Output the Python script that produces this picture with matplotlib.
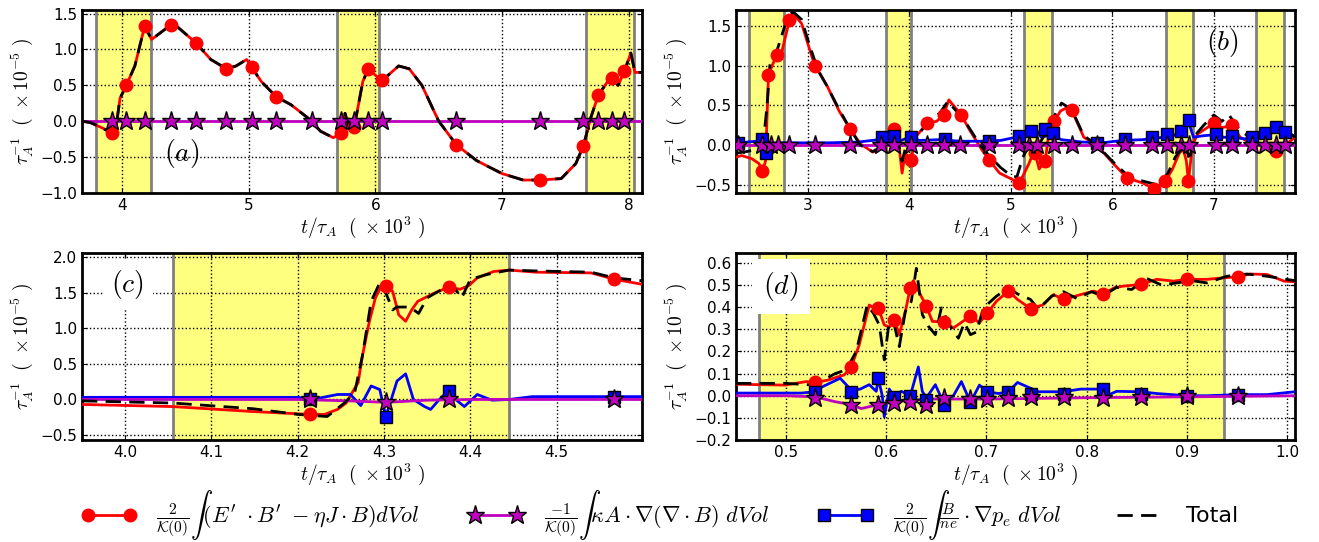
import numpy as np
import matplotlib.pyplot as plt
from matplotlib.lines import Line2D

# ---------------- panel (a) ----------------
t_a = [3.683, 3.75, 3.85, 3.917, 3.95, 3.983, 4.033, 4.1, 4.177, 4.233, 4.3, 4.383, 4.433, 4.583, 4.7,
       4.823, 4.9, 4.983, 5.023, 5.1, 5.217, 5.333, 5.467, 5.567, 5.667, 5.727, 5.76, 5.793, 5.833, 5.9,
       5.943, 6.0, 6.05, 6.1, 6.183, 6.267, 6.367, 6.5, 6.64, 6.8, 7.0, 7.167, 7.3, 7.467, 7.583,
       7.643, 7.7, 7.76, 7.833, 7.867, 7.917, 7.967, 8.017, 8.05, 8.106]
red_a = [0.0, -0.02, -0.1, -0.17, -0.1, 0.32, 0.5, 0.77, 1.32, 1.14, 1.23, 1.34, 1.32, 1.09, 0.86,
         0.73, 0.77, 0.86, 0.75, 0.55, 0.34, 0.23, 0.045, -0.14, -0.23, -0.17, 0.11, -0.09, -0.08, 0.55,
         0.73, 0.64, 0.57, 0.64, 0.77, 0.73, 0.5, 0.0, -0.33, -0.55, -0.73, -0.82, -0.82, -0.8, -0.59,
         -0.34, 0.045, 0.36, 0.55, 0.6, 0.5, 0.70, 0.95, 0.68, 0.68]
tot_a = red_a
t_mag_a = [3.683, 8.106]
mag_a = [0.0, 0.0]
t_rmk_a = [3.917, 4.033, 4.177, 4.383, 4.583, 4.823, 5.023, 5.217, 5.727, 5.833, 5.943, 6.05, 6.64,
           7.3, 7.643, 7.76, 7.867, 7.967]
rmk_a = [-0.17, 0.5, 1.32, 1.34, 1.09, 0.73, 0.75, 0.34, -0.17, -0.08, 0.73, 0.57, -0.33, -0.82,
         -0.34, 0.36, 0.6, 0.70]
t_star_a = [3.917, 4.033, 4.177, 4.383, 4.583, 4.823, 5.023, 5.217, 5.5, 5.727, 5.833, 5.943, 6.05,
            6.64, 7.3, 7.643, 7.76, 7.867, 7.967]
star_a = [0.0] * len(t_star_a)
spans_a = [(3.79, 4.23), (5.70, 6.03), (7.665, 8.045)]

# ---------------- panel (b) ----------------
t_rb = [2.294, 2.35, 2.45, 2.52, 2.555, 2.585, 2.614, 2.65, 2.697, 2.73, 2.75, 2.79, 2.82, 2.854,
        2.94, 3.02, 3.07, 3.19, 3.31, 3.415, 3.52, 3.64, 3.77, 3.85, 3.89, 3.93, 3.96, 4.02, 4.06,
        4.18, 4.27, 4.34, 4.39, 4.51, 4.6, 4.72, 4.79, 4.89, 5.085, 5.18, 5.22, 5.24, 5.28, 5.34,
        5.37, 5.43, 5.49, 5.55, 5.6, 5.72, 5.85, 6.01, 6.145, 6.3, 6.41, 6.47, 6.52, 6.59, 6.66,
        6.7, 6.73, 6.75, 6.79, 6.84, 7.0, 7.08, 7.18, 7.26, 7.38, 7.5, 7.61, 7.7, 7.8]
red_b = [-0.15, -0.13, -0.17, -0.23, -0.32, -0.2, 0.885, 1.0, 1.14, 1.08, 1.2, 1.41, 1.57, 1.66,
         1.53, 1.2, 1.0, 0.75, 0.43, 0.21, 0.016, -0.086, -0.025, 0.2, 0.1, -0.35, -0.1, -0.18, 0.1,
         0.28, 0.3, 0.385, 0.57, 0.385, 0.18, -0.066, -0.19, -0.35, -0.475, -0.23, -0.1, -0.1, -0.3,
         -0.2, 0.1, 0.3, 0.43, 0.47, 0.44, 0.1, 0.0, -0.23, -0.41, -0.475, -0.545, -0.5, -0.455,
         -0.31, -0.1, -0.05, -0.2, -0.455, 0.0, 0.14, 0.275, 0.22, 0.25, 0.1, 0.016, -0.02, -0.074,
         0.0, 0.1]
t_kb = [2.294, 2.4, 2.5, 2.56, 2.6, 2.63, 2.66, 2.7, 2.75, 2.8, 2.854, 2.94, 3.02, 3.1, 3.2, 3.31,
        3.42, 3.52, 3.64, 3.75, 3.83, 3.88, 3.93, 3.97, 4.02, 4.1, 4.2, 4.3, 4.38, 4.45, 4.55, 4.7,
        4.8, 4.9, 5.0, 5.06, 5.12, 5.18, 5.25, 5.32, 5.4, 5.5, 5.6, 5.72, 5.85, 6.0, 6.15, 6.3, 6.45,
        6.55, 6.62, 6.68, 6.72, 6.76, 6.8, 6.9, 7.0, 7.08, 7.15, 7.25, 7.35, 7.45, 7.55, 7.65, 7.8]
tot_b = [-0.1, -0.08, -0.05, 0.0, 0.5, 1.05, 1.1, 1.2, 1.4, 1.6, 1.68, 1.58, 1.25, 0.95, 0.72, 0.45,
         0.2, 0.0, -0.08, 0.0, 0.25, 0.1, -0.2, 0.0, -0.05, 0.15, 0.32, 0.4, 0.55, 0.45, 0.3, 0.0,
         -0.15, -0.28, -0.38, -0.4, -0.15, 0.0, -0.05, 0.1, 0.3, 0.53, 0.45, 0.12, 0.0, -0.2, -0.38,
         -0.45, -0.5, -0.35, -0.15, -0.05, 0.05, -0.2, 0.1, 0.25, 0.38, 0.3, 0.38, 0.2, 0.1, 0.1,
         0.2, 0.25, 0.1]
t_bb = [2.294, 2.4, 2.5, 2.55, 2.58, 2.62, 2.7, 2.9, 3.2, 3.5, 3.7, 3.8, 3.9, 4.0, 4.1, 4.3, 4.5,
        4.7, 4.9, 5.05, 5.15, 5.25, 5.3, 5.4, 5.5, 5.7, 5.9, 6.1, 6.3, 6.5, 6.6, 6.7, 6.75, 6.8, 6.9,
        7.0, 7.1, 7.2, 7.3, 7.4, 7.5, 7.6, 7.7, 7.8]
blue_b = [0.0, 0.04, 0.05, 0.08, -0.05, 0.02, 0.03, 0.03, 0.03, 0.04, 0.07, 0.1, 0.05, 0.1, 0.06,
          0.07, 0.05, 0.05, 0.06, 0.1, 0.15, 0.2, 0.1, 0.13, 0.07, 0.04, 0.03, 0.06, 0.07, 0.1, 0.12,
          0.18, 0.3, 0.1, 0.12, 0.13, 0.1, 0.1, 0.08, 0.1, 0.12, 0.2, 0.14, 0.12]
t_mag_b = [2.294, 7.8]
mag_b = [0.0, 0.0]
t_rmk_b = [2.555, 2.614, 2.697, 2.82, 3.07, 3.415, 3.85, 4.02, 4.18, 4.34, 4.51, 4.79, 5.085, 5.24,
           5.34, 5.43, 5.6, 6.145, 6.41, 6.52, 6.75, 7.0, 7.18, 7.61]
rmk_b = [-0.32, 0.885, 1.14, 1.57, 1.0, 0.21, 0.2, -0.18, 0.28, 0.385, 0.385, -0.19, -0.475, -0.1,
         -0.2, 0.3, 0.44, -0.41, -0.545, -0.455, -0.455, 0.275, 0.25, -0.074]
t_sq_b = [2.31, 2.55, 2.59, 3.73, 3.85, 4.02, 4.35, 4.79, 5.085, 5.2, 5.34, 5.42, 5.85, 6.125, 6.39,
          6.535, 6.68, 6.755, 7.02, 7.18, 7.38, 7.5, 7.61, 7.7]
sq_b = [0.03, 0.08, -0.1, 0.1, 0.12, 0.1, 0.08, 0.05, 0.12, 0.18, 0.21, 0.15, 0.025, 0.08, 0.1,
        0.14, 0.18, 0.32, 0.14, 0.12, 0.1, 0.15, 0.23, 0.16]
t_star_b = [2.31, 2.555, 2.64, 2.71, 2.82, 3.07, 3.415, 3.727, 3.85, 4.02, 4.18, 4.345, 4.5, 4.79,
            5.085, 5.18, 5.26, 5.43, 5.6, 5.85, 6.125, 6.39, 6.535, 6.68, 6.755, 7.02, 7.18, 7.38,
            7.5, 7.61, 7.7]
star_b = [0.0] * len(t_star_b)
spans_b = [(2.42, 2.77), (3.77, 4.02), (5.13, 5.41), (6.53, 6.80), (7.42, 7.69)]

# ---------------- panel (c) ----------------
t_rc = [3.95, 4.055, 4.148, 4.214, 4.231, 4.246, 4.256, 4.27, 4.275, 4.283, 4.29, 4.298, 4.302,
        4.31, 4.317, 4.325, 4.332, 4.339, 4.359, 4.375, 4.388, 4.398, 4.408, 4.427, 4.445, 4.476,
        4.54, 4.567, 4.599]
red_c = [-0.07, -0.1, -0.17, -0.21, -0.21, -0.14, -0.05, 0.24, 0.62, 1.1, 1.43, 1.62, 1.6, 1.52,
         1.19, 1.1, 1.26, 1.38, 1.5, 1.58, 1.55, 1.6, 1.71, 1.8, 1.82, 1.79, 1.78, 1.69, 1.62]
t_kc = [3.95, 4.055, 4.148, 4.2, 4.234, 4.254, 4.266, 4.275, 4.285, 4.295, 4.302, 4.31, 4.315, 4.33,
        4.34, 4.35, 4.37, 4.378, 4.39, 4.4, 4.42, 4.445, 4.47, 4.54, 4.567, 4.599]
tot_c = [-0.02, -0.05, -0.13, -0.21, -0.24, -0.05, 0.1, 0.62, 1.38, 1.64, 1.5, 1.26, 1.3, 1.3, 1.21,
         1.43, 1.57, 1.62, 1.43, 1.69, 1.76, 1.82, 1.81, 1.79, 1.71, 1.67]
t_bc = [3.95, 4.2, 4.217, 4.246, 4.261, 4.273, 4.285, 4.295, 4.302, 4.307, 4.315, 4.325, 4.334,
        4.347, 4.354, 4.364, 4.375, 4.383, 4.393, 4.408, 4.425, 4.445, 4.472, 4.599]
blue_c = [0.03, 0.03, 0.0, 0.07, 0.07, -0.086, 0.19, 0.14, -0.24, -0.05, 0.26, 0.36, 0.0, -0.1,
          -0.14, 0.0, 0.13, 0.0, -0.1, 0.07, -0.01, 0.0, 0.04, 0.04]
t_mag_c = [3.95, 4.2, 4.26, 4.302, 4.35, 4.4, 4.599]
mag_c = [0.0, 0.0, -0.02, -0.04, -0.01, 0.0, 0.0]
t_mk_c = [4.214, 4.302, 4.375, 4.567]
rmk_c = [-0.21, 1.6, 1.58, 1.69]
sq_c = [0.0, -0.24, 0.12, 0.04]
star_c = [0.0, -0.04, 0.0, 0.0]
spans_c = [(4.055, 4.445)]

# ---------------- panel (d) ----------------
t_rd = [0.45, 0.499, 0.52, 0.529, 0.541, 0.558, 0.565, 0.573, 0.583, 0.59, 0.592, 0.598, 0.603,
        0.608, 0.613, 0.619, 0.624, 0.627, 0.636, 0.64, 0.646, 0.658, 0.667, 0.684, 0.693, 0.701,
        0.71, 0.722, 0.731, 0.744, 0.756, 0.767, 0.777, 0.794, 0.807, 0.816, 0.828, 0.836, 0.854,
        0.87, 0.887, 0.9, 0.92, 0.9375, 0.951, 0.963, 0.98, 0.997, 1.008]
red_d = [0.052, 0.048, 0.064, 0.06, 0.07, 0.094, 0.13, 0.23, 0.41, 0.39, 0.397, 0.32, 0.31, 0.344,
         0.276, 0.38, 0.488, 0.52, 0.44, 0.405, 0.336, 0.333, 0.306, 0.36, 0.33, 0.374, 0.427, 0.473,
         0.435, 0.394, 0.41, 0.457, 0.435, 0.457, 0.473, 0.46, 0.488, 0.495, 0.503, 0.526, 0.518,
         0.526, 0.526, 0.533, 0.538, 0.55, 0.548, 0.518, 0.515]
t_kd = [0.45, 0.5, 0.528, 0.549, 0.56, 0.57, 0.581, 0.587, 0.593, 0.598, 0.603, 0.608, 0.613, 0.619,
        0.625, 0.63, 0.636, 0.642, 0.649, 0.655, 0.662, 0.667, 0.672, 0.678, 0.684, 0.69, 0.697,
        0.71, 0.722, 0.731, 0.744, 0.752, 0.765, 0.777, 0.79, 0.805, 0.816, 0.83, 0.845, 0.86, 0.875,
        0.89, 0.905, 0.92, 0.94, 0.96, 0.98, 1.008]
tot_d = [0.056, 0.056, 0.048, 0.1, 0.117, 0.2, 0.41, 0.374, 0.32, 0.162, 0.336, 0.32, 0.222, 0.38,
         0.427, 0.576, 0.367, 0.314, 0.276, 0.397, 0.33, 0.29, 0.26, 0.33, 0.276, 0.288, 0.397, 0.45,
         0.488, 0.46, 0.435, 0.39, 0.45, 0.47, 0.44, 0.47, 0.45, 0.49, 0.48, 0.53, 0.5, 0.51, 0.52,
         0.51, 0.54, 0.55, 0.54, 0.52]
t_bd = [0.45, 0.515, 0.529, 0.536, 0.554, 0.56, 0.565, 0.574, 0.583, 0.59, 0.592, 0.596, 0.598,
        0.603, 0.608, 0.615, 0.624, 0.632, 0.636, 0.64, 0.649, 0.658, 0.667, 0.675, 0.684, 0.693,
        0.701, 0.712, 0.722, 0.731, 0.752, 0.777, 0.794, 0.816, 0.82, 0.83, 0.854, 0.87, 0.9, 0.92,
        0.951, 0.98, 1.008]
blue_d = [0.012, 0.012, 0.018, 0.04, 0.079, 0.05, 0.025, 0.03, 0.05, 0.02, 0.079, 0.0, -0.095, 0.03,
          -0.005, 0.02, 0.0, 0.13, 0.02, -0.01, 0.05, -0.04, 0.0, 0.064, -0.03, 0.048, 0.018, 0.01,
          0.018, 0.06, 0.018, 0.018, 0.03, 0.03, 0.0, 0.02, 0.018, 0.01, 0.0, 0.0, 0.005, 0.005, 0.018]
t_mag_d = [0.45, 0.5, 0.529, 0.549, 0.565, 0.575, 0.592, 0.608, 0.64, 0.7, 0.8, 0.9, 1.008]
mag_d = [0.0, 0.0, -0.005, -0.027, -0.04, -0.058, -0.04, -0.027, -0.015, -0.015, -0.009, -0.005, 0.0]
t_mk_d = [0.529, 0.565, 0.592, 0.608, 0.624, 0.64, 0.658, 0.684, 0.701, 0.722, 0.744, 0.777, 0.816,
          0.854, 0.9, 0.951]
rmk_d = [0.06, 0.13, 0.397, 0.344, 0.488, 0.405, 0.333, 0.36, 0.374, 0.473, 0.394, 0.435, 0.46,
         0.503, 0.526, 0.538]
sq_d = [0.018, 0.018, 0.079, -0.005, 0.0, -0.02, -0.04, -0.027, 0.018, 0.018, 0.01, 0.01, 0.03,
        0.01, 0.0, 0.005]
star_d = [-0.01, -0.04, -0.04, -0.035, -0.027, -0.04, -0.012, -0.015, -0.015, -0.009, -0.005,
          -0.005, -0.009, -0.005, 0.0, 0.0]
spans_d = [(0.473, 0.9375)]

labels = [r"$\frac{2}{\mathcal{K}(0)}\int(E^{\prime}\ \cdot B^{\prime}\ -\eta J\cdot B)dVol$",
          r"$\frac{-1}{\mathcal{K}(0)}\int\kappa A\cdot\nabla(\nabla\cdot B)\ dVol$",
          r"$\frac{2}{\mathcal{K}(0)}\int\frac{B}{ne}\cdot\nabla p_e\ dVol$",
          "Total"]

plt.rcParams['mathtext.fontset'] = 'cm'
plt.rcParams['xtick.direction'] = 'in'
plt.rcParams['ytick.direction'] = 'in'
plt.rcParams['xtick.top'] = True
plt.rcParams['ytick.right'] = True
plt.rcParams['font.size'] = 11

RED, MAG, BLUE = 'r', (0.75, 0, 0.75), 'b'
DASH = (5.5, 3)

fig = plt.figure(figsize=(13.19, 5.42), dpi=100)
ax_a = fig.add_axes([0.0622, 0.644, 0.4246, 0.3376])
ax_b = fig.add_axes([0.558, 0.644, 0.4238, 0.3376])
ax_c = fig.add_axes([0.0622, 0.1882, 0.4246, 0.345])
ax_d = fig.add_axes([0.558, 0.1882, 0.4238, 0.345])


def setup(ax, spans):
    for lo, hi in spans:
        ax.axvspan(lo, hi, color='yellow', alpha=0.5, lw=0, zorder=0)
        ax.axvline(lo, color='gray', lw=2, zorder=1)
        ax.axvline(hi, color='gray', lw=2, zorder=1)
    ax.grid(True, color='k', ls=':', lw=1)
    ax.set_axisbelow(True)
    for s in ax.spines.values():
        s.set_linewidth(2)
    ax.set_xlabel(r'$t/\tau_A\ \ (\ \times10^3\ )$', fontsize=14, labelpad=1)
    ax.set_ylabel(r'$\tau_A^{-1}\ \ (\ \times10^{-5}\ )$', fontsize=14, labelpad=4)


def red_series(ax, t, y, tm, ym):
    ax.plot(t, y, color=RED, lw=2, zorder=3)
    ax.plot(tm, ym, ls='none', marker='o', ms=9, mfc=RED, mec=RED, zorder=5)


def blue_series(ax, t, y, tm, ym):
    ax.plot(t, y, color=BLUE, lw=2, zorder=3)
    ax.plot(tm, ym, ls='none', marker='s', ms=8, mfc=BLUE, mec='k', mew=1, zorder=5)


def mag_series(ax, t, y, tm, ym):
    ax.plot(t, y, color=MAG, lw=2, zorder=3)
    ax.plot(tm, ym, ls='none', marker='*', ms=14, mfc=MAG, mec='k', mew=1, zorder=6)


def total(ax, t, y):
    ax.plot(t, y, color='k', lw=2, dashes=DASH, zorder=4)


# (a)
setup(ax_a, spans_a)
red_series(ax_a, t_a, red_a, t_rmk_a, rmk_a)
total(ax_a, t_a, tot_a)
mag_series(ax_a, t_mag_a, mag_a, t_star_a, star_a)
ax_a.set_xlim(3.683, 8.106)
ax_a.set_ylim(-1.0, 1.55)
ax_a.set_xticks([4, 5, 6, 7, 8])
ax_a.set_yticks([-1.0, -0.5, 0.0, 0.5, 1.0, 1.5])
ax_a.text(4.47, -0.45, '$(a)$', fontsize=20, ha='center', va='center')

# (b)
setup(ax_b, spans_b)
red_series(ax_b, t_rb, red_b, t_rmk_b, rmk_b)
total(ax_b, t_kb, tot_b)
blue_series(ax_b, t_bb, blue_b, t_sq_b, sq_b)
mag_series(ax_b, t_mag_b, mag_b, t_star_b, star_b)
ax_b.set_xlim(2.294, 7.8)
ax_b.set_ylim(-0.6, 1.7)
ax_b.set_xticks([3, 4, 5, 6, 7])
ax_b.set_yticks([-0.5, 0.0, 0.5, 1.0, 1.5])
ax_b.text(7.09, 1.29, '$(b)$', fontsize=20, ha='center', va='center')

# (c)
setup(ax_c, spans_c)
red_series(ax_c, t_rc, red_c, t_mk_c, rmk_c)
total(ax_c, t_kc, tot_c)
blue_series(ax_c, t_bc, blue_c, t_mk_c, sq_c)
mag_series(ax_c, t_mag_c, mag_c, t_mk_c, star_c)
ax_c.set_xlim(3.95, 4.599)
ax_c.set_ylim(-0.57, 2.06)
ax_c.set_xticks([4.0, 4.1, 4.2, 4.3, 4.4, 4.5])
ax_c.set_yticks([-0.5, 0.0, 0.5, 1.0, 1.5, 2.0])
ax_c.text(4.003, 1.62, '$(c)$', fontsize=20, ha='center', va='center',
          bbox=dict(facecolor='white', edgecolor='none', pad=6), zorder=7)

# (d)
setup(ax_d, spans_d)
red_series(ax_d, t_rd, red_d, t_mk_d, rmk_d)
total(ax_d, t_kd, tot_d)
blue_series(ax_d, t_bd, blue_d, t_mk_d, sq_d)
mag_series(ax_d, t_mag_d, mag_d, t_mk_d, star_d)
ax_d.set_xlim(0.45, 1.008)
ax_d.set_ylim(-0.2, 0.645)
ax_d.set_xticks([0.5, 0.6, 0.7, 0.8, 0.9, 1.0])
ax_d.set_yticks([-0.2, -0.1, 0.0, 0.1, 0.2, 0.3, 0.4, 0.5, 0.6])
ax_d.text(0.495, 0.495, '$(d)$', fontsize=20, ha='center', va='center',
          bbox=dict(facecolor='white', edgecolor='none', pad=8), zorder=7)

handles = [
    Line2D([], [], color=RED, lw=2, marker='o', ms=9, mfc=RED, mec=RED),
    Line2D([], [], color=MAG, lw=2, marker='*', ms=14, mfc=MAG, mec='k'),
    Line2D([], [], color=BLUE, lw=2, marker='s', ms=8, mfc=BLUE, mec='k'),
    Line2D([], [], color='k', lw=2, dashes=DASH),
]
fig.legend(handles, labels, loc='center', bbox_to_anchor=(0.5, 0.05), ncol=4, frameon=False,
           numpoints=2, fontsize=16, handlelength=2.5, columnspacing=2.2, handletextpad=0.9)

fig.savefig('out.png', dpi=100)
